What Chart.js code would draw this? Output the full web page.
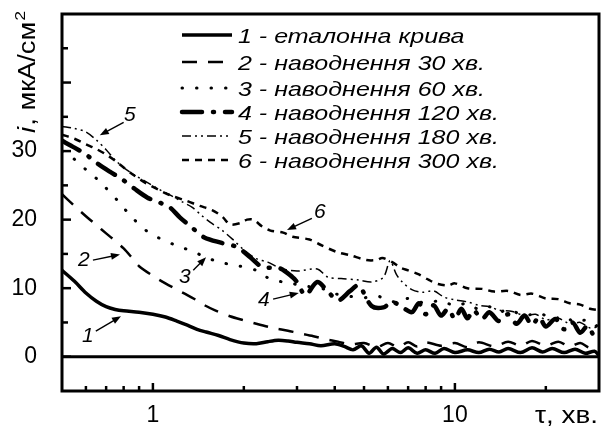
<!DOCTYPE html>
<html><head><meta charset="utf-8">
<script src="https://cdn.jsdelivr.net/npm/chart.js@4.4.0/dist/chart.umd.min.js"></script>
<style>html,body{margin:0;padding:0;background:#fff;}#wrap{width:604px;height:432px;}</style>
</head><body><div id="wrap"><canvas id="c" width="604" height="432"></canvas></div>
<script>
// ---------- DATA ----------
const seriesLabels = [
  '1 - еталонна крива',
  '2 - наводнення 30 хв.',
  '3 - наводнення 60 хв.',
  '4 - наводнення 120 хв.',
  '5 - наводнення 180 хв.',
  '6 - наводнення 300 хв.'
];
const curve1X = [0.5,0.55,0.6,0.65,0.7,0.75,0.8,0.9,1.0,1.1,1.2,1.3,1.4,1.5,1.65,1.8,2.0,2.2,2.4,2.6,2.8,3.0,3.3,3.6,4.0,4.3,4.6,4.9,5.2,5.5,5.8,6.2,6.6,7.0,7.5,8.0,8.6,9.2,10,11,12,13,14,15,16.5,18,19.5,21,23,25,27,29,30];
const curve1Y = [12.6,11.0,9.3,8.1,7.3,6.9,6.7,6.5,6.2,5.8,5.2,4.6,4.0,3.6,3.1,2.5,2.0,1.9,2.2,2.4,2.3,2.1,1.9,1.6,1.9,1.5,1.0,1.6,0.5,1.4,0.4,1.2,0.6,1.3,0.5,1.0,0.5,1.2,0.6,1.0,0.6,1.1,0.7,1.2,0.6,1.3,0.7,1.2,0.6,1.1,0.5,0.8,0.2];
const curve2X = [0.5,0.55,0.6,0.65,0.7,0.75,0.8,0.85,0.9,1.0,1.1,1.2,1.3,1.4,1.5,1.6,1.8,2.0,2.2,2.5,2.8,3.0,3.4,3.7,4.1,4.5,5,5.5,6,6.5,7,7.5,8,9,10,11,12,13.5,15,16.5,18,20,22,24,26,28,30];
const curve2Y = [23.7,22.0,20.5,19.2,18.0,16.9,15.8,14.5,13.2,11.8,10.7,9.8,9.0,8.2,7.4,6.8,5.9,5.3,4.8,4.2,3.8,3.5,3.0,2.6,2.2,1.8,2.0,1.4,2.0,1.4,2.1,1.5,2.1,1.6,2.0,1.4,2.1,1.5,2.2,1.6,2.3,1.6,2.2,1.5,2.0,1.3,1.6];
const curve3X = [0.5,0.55,0.6,0.65,0.7,0.77,0.85,0.95,1.05,1.2,1.35,1.48,1.66,1.9,2.2,2.45,2.8,3.2,3.6,4.0,4.5,5.0,5.5,6.0,6.5,7,8,9,10,11,12,13,14,15,17,19,21,23,25,27,29,30];
const curve3Y = [30.0,28.8,27.3,26.0,24.6,22.6,20.4,18.4,17.3,16.2,15.4,14.6,13.8,13.3,12.6,11.3,10.8,10.3,10.0,9.2,8.8,8.6,8.9,8.2,8.0,8.5,7.8,8.2,7.4,7.8,6.9,7.3,6.5,6.9,6.0,6.4,5.5,5.9,5.0,5.3,4.4,4.8];
const curve4X = [0.5,0.55,0.6,0.65,0.72,0.79,0.87,0.96,1.05,1.13,1.23,1.35,1.48,1.69,1.9,2.1,2.3,2.63,2.9,3.0,3.2,3.5,3.8,4.1,4.5,4.8,5.3,5.8,6.2,6.7,7.2,7.6,8.0,8.5,9,9.5,10,10.5,11,11.5,12.3,13,14,15,16,17,18,19,20,21.5,23,24.5,26,27.5,29,30];
const curve4Y = [31.5,30.5,29.5,28.3,27.0,25.9,24.5,23.2,22.5,21.9,20.3,18.8,17.4,16.6,16.0,14.5,13.1,12.9,11.6,10.9,9.0,10.9,9.5,8.2,9.6,10.4,7.4,7.2,8.0,7.2,6.5,7.8,6.2,7.5,6.0,7.0,5.5,7.0,5.6,6.8,5.5,6.5,5.2,6.2,4.8,6.0,4.6,5.8,4.4,5.5,4.0,5.0,3.5,4.5,3.0,3.8];
const curve5X = [0.5,0.55,0.6,0.65,0.7,0.75,0.8,0.87,0.96,1.05,1.15,1.25,1.35,1.45,1.55,1.7,1.85,2.0,2.2,2.4,2.65,3.0,3.5,3.8,4.2,4.8,5.3,5.8,6.1,6.4,6.7,7.2,7.8,8.5,9.2,10,11,12,13,14,15.5,17,18.5,20,22,24,26,28,30];
const curve5Y = [33.6,33.3,32.8,31.6,30.2,28.7,27.6,26.5,25.4,24.4,23.5,22.6,21.8,20.6,19.6,18.4,17.0,15.6,14.3,13.8,12.9,12.5,12.8,11.6,11.4,11.2,10.9,11.6,14.0,12.0,10.9,9.8,9.4,9.6,8.7,8.3,8.0,7.5,7.3,6.8,6.6,6.0,6.2,5.4,5.6,4.8,5.0,4.2,4.4];
const curve6X = [0.5,0.55,0.6,0.65,0.7,0.75,0.8,0.87,0.95,1.05,1.15,1.3,1.43,1.57,1.7,1.8,1.95,2.05,2.15,2.3,2.45,2.7,2.9,3.3,3.6,4.05,4.5,5.1,5.5,5.75,6.2,6.6,7.0,7.6,8.2,8.8,9.5,10,11,12.3,13.5,15,16.5,18,20,22,24,26,28,30];
const curve6Y = [32.4,31.8,31.0,30.3,29.5,28.6,27.6,26.4,25.3,24.3,23.5,22.7,22.0,21.4,20.4,19.3,19.5,20.0,20.0,19.0,18.4,18.1,17.5,17.1,16.3,15.3,14.8,14.1,14.1,14.4,13.8,13.0,12.6,12.0,11.2,10.6,10.4,10.7,10.0,9.9,9.5,9.6,9.0,9.2,8.5,8.4,7.8,7.6,7.0,6.8];

const xTickValues = [0.6,0.7,0.8,0.9,1,2,3,4,5,6,7,8,9,10,20];
const xTickLabels = [1, 10];
const yTickValues = [0,5,10,15,20,25,30,35,40,45];
const yTickLabels = [0, 10, 20, 30];
const xAxisTitle = 'τ, хв.';
const yAxisTitleItalic = 'i';
const yAxisTitleRest = ', мкА/см';
const yAxisTitleSup = '2';
const curveNumbers = ['1','2','3','4','5','6'];

// ---------- STYLE / LAYOUT ----------
const FONT = '"Liberation Sans", Arial, sans-serif';
const styles = [
  {w:3.5, dash:[], cap:'butt'},
  {w:2.5, dash:[15,11], cap:'butt'},
  {w:3, dash:[0.5,14], cap:'round'},
  {w:4.5, dash:[20,11,1,11], cap:'round'},
  {w:1.5, dash:[9,4,2,4,2,4], cap:'butt'},
  {w:2.5, dash:[7,6], cap:'butt'}
];
const legendRowY = [35,62,88,112,136,160];
const annots = [
  {n:4, t:[0.839,35.3], a:[0.80,34.2], b:[0.667,32.3]},
  {n:1, t:[0.591,14.1], a:[0.633,14.1], b:[0.778,14.9]},
  {n:0, t:[0.609,3.0], a:[0.647,3.75], b:[0.784,5.9]},
  {n:2, t:[1.276,11.6], a:[1.36,12.6], b:[1.50,14.5]},
  {n:3, t:[2.33,8.3], a:[2.50,8.4], b:[3.04,9.3]},
  {n:5, t:[3.57,21.1], a:[3.36,20.2], b:[2.78,18.5]}
];

function pts(xs, ys){ return xs.map((x,i)=>({x:x, y:ys[i]})); }
const allX = [curve1X,curve2X,curve3X,curve4X,curve5X,curve6X];
const allY = [curve1Y,curve2Y,curve3Y,curve4Y,curve5Y,curve6Y];

const datasets = allX.map((xs,i)=>({
  label: seriesLabels[i],
  data: pts(xs, allY[i]),
  borderColor:'#000',
  borderWidth: styles[i].w,
  borderDash: styles[i].dash,
  borderCapStyle: styles[i].cap,
  fill:false,
  pointRadius:0,
  tension:0.3
}));

function drawStretched(ctx, text, x, y, sx, align){
  const w = ctx.measureText(text).width;
  ctx.save(); ctx.translate(x,y); ctx.scale(sx,1); ctx.textAlign='left';
  let ox = 0; if(align==='right') ox=-w; else if(align==='center') ox=-w/2;
  ctx.fillText(text, ox, 0); ctx.restore();
  return w*sx;
}

const decor = {
  id:'decor',
  beforeDatasetsDraw(chart){
    const ctx = chart.ctx, a = chart.chartArea, y = chart.scales.y;
    ctx.save();
    ctx.strokeStyle='#000'; ctx.lineWidth=3;
    const y0 = y.getPixelForValue(0);
    ctx.beginPath(); ctx.moveTo(a.left,y0); ctx.lineTo(a.right,y0); ctx.stroke();
    ctx.restore();
  },
  afterDraw(chart){
    const ctx = chart.ctx, a = chart.chartArea, xs = chart.scales.x, ys = chart.scales.y;
    ctx.save();
    ctx.strokeStyle='#000'; ctx.fillStyle='#000';
    ctx.lineWidth=3; ctx.setLineDash([]);
    ctx.strokeRect(a.left, a.top, a.right-a.left, a.bottom-a.top);
    ctx.lineWidth=2.5;
    yTickValues.forEach(v=>{
      const p = ys.getPixelForValue(v);
      const len = (v%10===0)?9:6;
      ctx.beginPath(); ctx.moveTo(a.left, p); ctx.lineTo(a.left+len, p); ctx.stroke();
    });
    xTickValues.forEach(v=>{
      const p = xs.getPixelForValue(v);
      const len = xTickLabels.includes(v)?8:5;
      ctx.beginPath(); ctx.moveTo(p, a.bottom); ctx.lineTo(p, a.bottom-len); ctx.stroke();
    });
    // legend
    ctx.font = 'italic 21px '+FONT;
    ctx.textBaseline='alphabetic';
    const sx = 247 / ctx.measureText(seriesLabels[1]).width;
    seriesLabels.forEach((lab,i)=>{
      const ry = legendRowY[i];
      const st = styles[i];
      ctx.lineWidth = st.w; ctx.setLineDash(st.dash); ctx.lineCap = st.cap;
      ctx.beginPath(); ctx.moveTo(182, ry); ctx.lineTo(232, ry); ctx.stroke();
      ctx.setLineDash([]); ctx.lineCap='butt';
      drawStretched(ctx, lab, 238, ry+7.5, sx, 'left');
    });
    // annotations
    ctx.font = 'italic 21px '+FONT;
    ctx.textAlign='center'; ctx.textBaseline='middle';
    annots.forEach(an=>{
      const tx = xs.getPixelForValue(an.t[0]), ty = ys.getPixelForValue(an.t[1]);
      ctx.fillText(curveNumbers[an.n], tx, ty);
      const x1 = xs.getPixelForValue(an.a[0]), y1 = ys.getPixelForValue(an.a[1]);
      const x2 = xs.getPixelForValue(an.b[0]), y2 = ys.getPixelForValue(an.b[1]);
      const ang = Math.atan2(y2-y1, x2-x1);
      ctx.lineWidth=1.4;
      ctx.beginPath(); ctx.moveTo(x1,y1); ctx.lineTo(x2-Math.cos(ang)*6, y2-Math.sin(ang)*6); ctx.stroke();
      ctx.beginPath();
      ctx.moveTo(x2,y2);
      ctx.lineTo(x2-Math.cos(ang)*9+Math.sin(ang)*3.5, y2-Math.sin(ang)*9-Math.cos(ang)*3.5);
      ctx.lineTo(x2-Math.cos(ang)*9-Math.sin(ang)*3.5, y2-Math.sin(ang)*9+Math.cos(ang)*3.5);
      ctx.closePath(); ctx.fill();
    });
    // x axis title
    ctx.font = '23px '+FONT; ctx.textBaseline='alphabetic';
    const wt = ctx.measureText(xAxisTitle).width;
    drawStretched(ctx, xAxisTitle, 598, 423, 63/wt, 'right');
    // y axis title (rotated)
    ctx.save();
    ctx.translate(35, 133); ctx.rotate(-Math.PI/2);
    ctx.textAlign='left'; ctx.textBaseline='alphabetic';
    ctx.font='italic 23px '+FONT;
    const w1 = ctx.measureText(yAxisTitleItalic).width;
    ctx.font='23px '+FONT;
    const w2 = ctx.measureText(yAxisTitleRest).width;
    const s = 110/(w1+w2);
    ctx.scale(s,1);
    ctx.font='italic 23px '+FONT; ctx.fillText(yAxisTitleItalic, 0, 0);
    ctx.font='23px '+FONT; ctx.fillText(yAxisTitleRest, w1+1, 0);
    ctx.font='15px '+FONT; ctx.fillText(yAxisTitleSup, w1+w2+2, -10);
    ctx.restore();
    ctx.restore();
  }
};

new Chart(document.getElementById('c'), {
  type:'line',
  data:{datasets},
  options:{
    responsive:false, animation:false, devicePixelRatio:1,
    layout:{padding:{top:14,right:5,left:0,bottom:0}},
    plugins:{legend:{display:false}, tooltip:{enabled:false}},
    scales:{
      x:{type:'logarithmic', min:0.5, max:30,
        grid:{display:false, drawTicks:false}, border:{display:false},
        afterBuildTicks(s){ s.ticks = xTickValues.map(v=>({value:v})); },
        afterFit(s){ s.height = 41; s.paddingLeft = 0; s.paddingRight = 0; s.paddingTop = 0; s.paddingBottom = 0; },
        ticks:{autoSkip:false, maxRotation:0, minRotation:0, padding:11, color:'#000',
          font:{family:FONT, size:23},
          callback(v){ return xTickLabels.includes(v) ? String(v) : ''; }}
      },
      y:{type:'linear', min:-5, max:50,
        grid:{display:false, drawTicks:false}, border:{display:false},
        afterBuildTicks(s){ s.ticks = yTickValues.map(v=>({value:v})); },
        afterFit(s){ s.width = 62; s.paddingTop = 0; s.paddingBottom = 0; s.paddingLeft = 0; s.paddingRight = 0; },
        ticks:{autoSkip:false, padding:25, color:'#000',
          font:{family:FONT, size:23},
          callback(v){ return yTickLabels.includes(v) ? String(v) : ''; }}
      }
    }
  },
  plugins:[decor]
});
</script></body></html>
